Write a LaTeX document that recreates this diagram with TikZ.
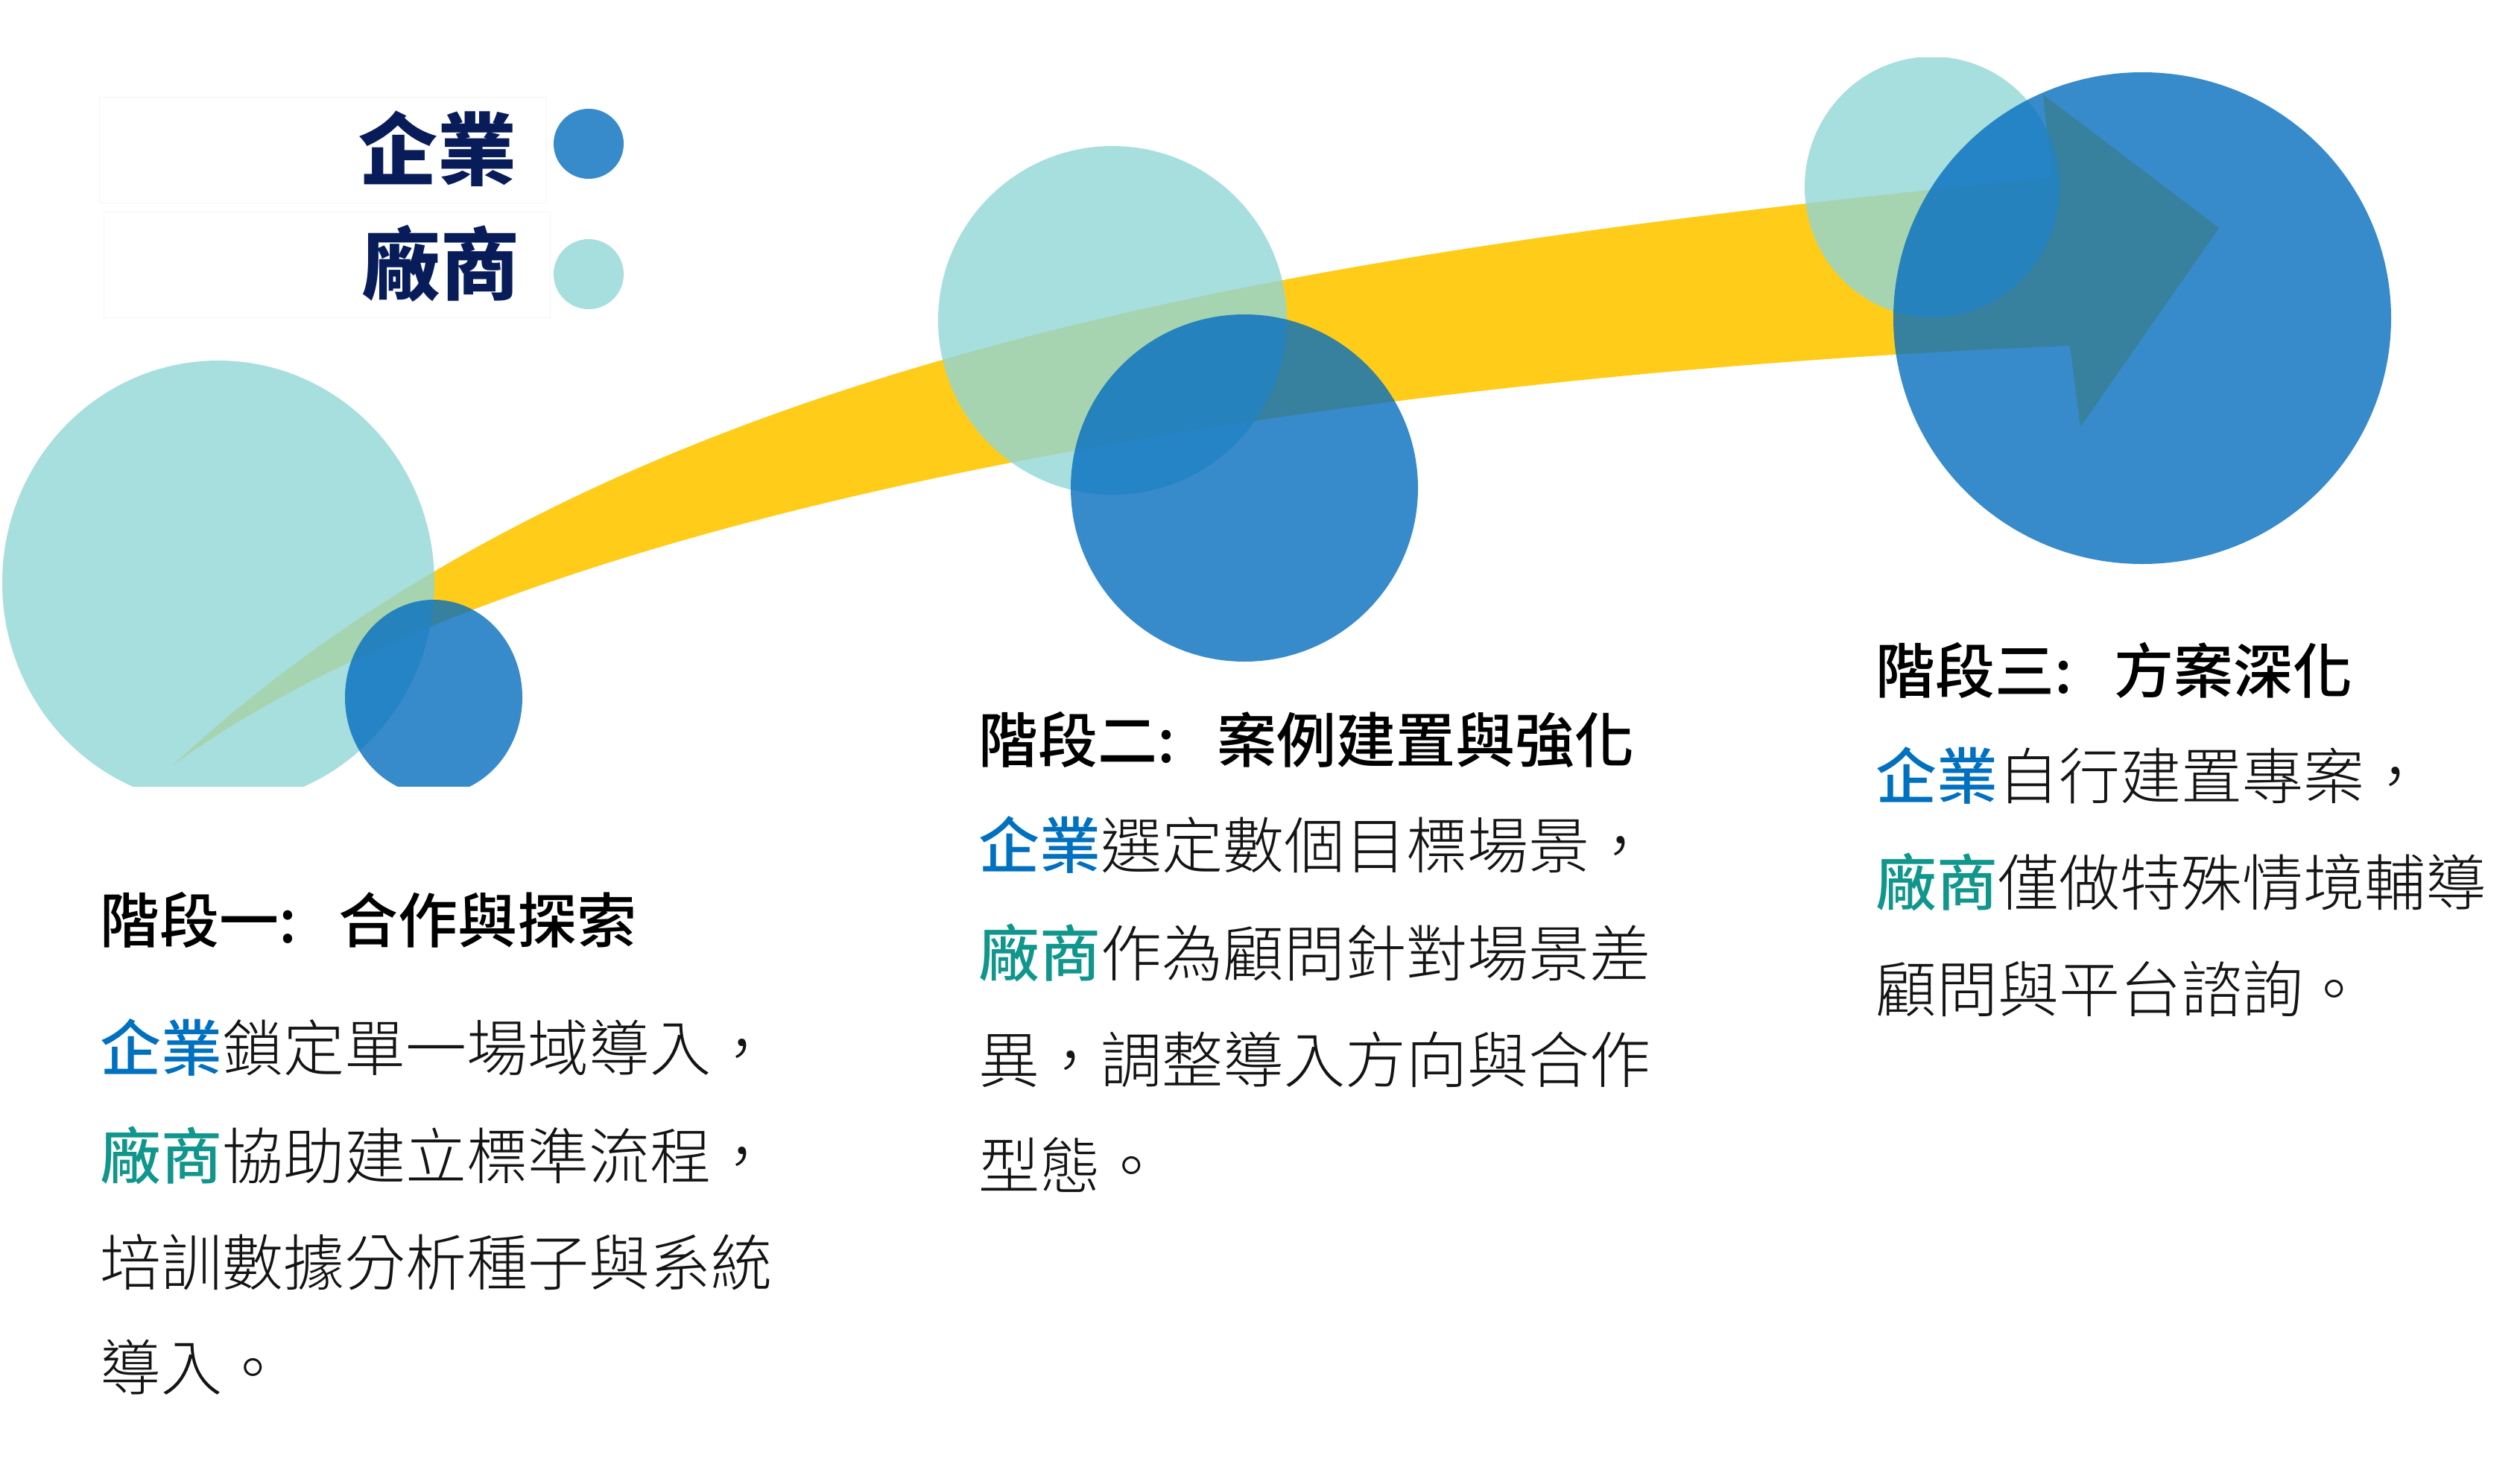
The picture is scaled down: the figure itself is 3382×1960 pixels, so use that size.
\documentclass[tikz,border=0pt]{standalone}
\usepackage{fontspec}
\setmainfont{Noto Sans CJK TC}
\newfontfamily\medfont{Noto Sans CJK TC Medium}
\newfontfamily\lightfont{Noto Sans CJK TC Light}
\usetikzlibrary{calc}
\definecolor{bandyellow}{RGB}{255,204,26}
\definecolor{lightc}{RGB}{146,214,214}
\definecolor{bluec}{RGB}{5,110,191}
\definecolor{navy}{RGB}{8,28,90}
\definecolor{entblue}{RGB}{0,112,192}
\definecolor{vendteal}{RGB}{16,150,140}
\definecolor{bodygray}{RGB}{20,20,20}
\tikzset{
  legtxt/.style={inner sep=0pt, text=navy, font=\fontsize{106pt}{120pt}\selectfont\bfseries},
  legdot/.style={circle, inner sep=0pt, minimum size=94pt, fill opacity=0.8},
  ttl/.style={inner sep=0pt, anchor=base west, text=black, font=\fontsize{80pt}{100pt}\selectfont\medfont},
  bodytxt/.style={inner sep=0pt, anchor=base west, text=bodygray, font=\fontsize{82pt}{100pt}\selectfont\lightfont},
  lightfill/.style={fill=lightc, fill opacity=0.8},
  bluefill/.style={fill=bluec, fill opacity=0.8},
  legbox/.style={draw=black!4, line width=1pt}
}
\newcommand{\ent}{\textcolor{entblue}{\medfont 企業}}
\newcommand{\vend}{\textcolor{vendteal}{\medfont 廠商}}
\newcommand{\tcolon}{\makebox[1em][l]{:}}
\begin{document}
\begin{tikzpicture}[x=1pt,y=-1pt]
\useasboundingbox (0,0) rectangle (3382,1960);
\fill[white] (0,0) rectangle (3382,1960);

% legend
\draw[legbox] (133,130) rectangle (733,272);
\draw[legbox] (139,284) rectangle (738,426);
\node[legtxt, anchor=base east] (lgA) at (694,240) {企業};
\node[legtxt, anchor=base east] (lgB) at (698,394) {廠商};
\node[legdot, fill=bluec] (lgcA) at (790,193) {};
\node[legdot, fill=lightc] (lgcB) at (790,368) {};

% yellow curved arrow
\coordinate (tip) at (231,1028);
\coordinate (ntop) at (2753,238);
\coordinate (htop) at (2742,127);
\coordinate (hpt) at (2978,306);
\coordinate (hbot) at (2792,573);
\coordinate (nbot) at (2778,464);
\fill[bandyellow] (tip) .. controls (831,470) and (1753,339) .. (ntop)
  -- (htop) -- (hpt) -- (hbot) -- (nbot)
  .. controls (1877,500) and (731,660) .. (tip) -- cycle;

% circles
\begin{scope}
\clip (0,77) rectangle (3382,1055);
\fill[lightfill] (293,782) ellipse [x radius=290pt, y radius=298pt];
\fill[lightfill] (1493,430) circle [radius=234pt];
\fill[lightfill] (2593,251) ellipse [x radius=171pt, y radius=175pt];
\fill[bluefill] (582,936) ellipse [x radius=119pt, y radius=131pt];
\fill[bluefill] (1670,655) circle [radius=233pt];
\fill[bluefill] (2875,427) ellipse [x radius=334pt, y radius=330pt];
\end{scope}

% stage 1
\node[ttl] (t1) at (134,1265) {階段一\tcolon 合作與探索};
\node[bodytxt] (b11) at (134,1437) {\ent 鎖定單一場域導入，};
\node[bodytxt] (b12) at (134,1582) {\vend 協助建立標準流程，};
\node[bodytxt] (b13) at (134,1725) {培訓數據分析種子與系統};
\node[bodytxt] (b14) at (134,1866) {導入。};

% stage 2
\node[ttl] (t2) at (1313,1023) {階段二\tcolon 案例建置與強化};
\node[bodytxt] (b21) at (1313,1165) {\ent 選定數個目標場景，};
\node[bodytxt] (b22) at (1313,1310) {\vend 作為顧問針對場景差};
\node[bodytxt] (b23) at (1313,1453) {異，調整導入方向與合作};
\node[bodytxt] (b24) at (1313,1595) {型態。};

% stage 3
\node[ttl] (t3) at (2517,930) {階段三\tcolon 方案深化};
\node[bodytxt] (b31) at (2517,1072) {\ent 自行建置專案，};
\node[bodytxt] (b32) at (2517,1215) {\vend 僅做特殊情境輔導};
\node[bodytxt] (b33) at (2517,1358) {顧問與平台諮詢。};
\end{tikzpicture}
\end{document}
